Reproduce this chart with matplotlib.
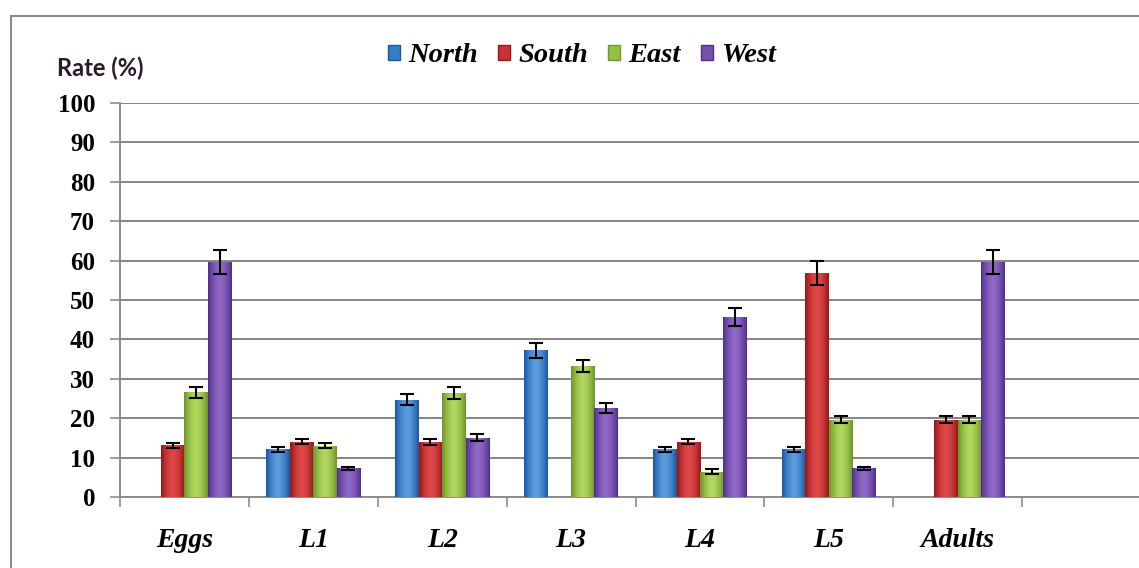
import matplotlib
matplotlib.use("Agg")
import matplotlib.pyplot as plt
import numpy as np
from matplotlib.patches import Rectangle, Patch
from matplotlib.colors import to_rgb

categories = ["Eggs", "L1", "L2", "L3", "L4", "L5", "Adults", ""]
series = ["North", "South", "East", "West"]
north = [0, 12.1, 24.7, 37.3, 12.1, 12.1, 0, 0]
south = [13.1, 14.0, 13.9, 0, 14.0, 56.8, 19.6, 0]
east = [26.6, 13.0, 26.5, 33.2, 6.4, 19.6, 19.6, 0]
west = [59.6, 7.3, 15.1, 22.6, 45.6, 7.3, 59.6, 0]
north_err = [0, 0.6, 1.35, 1.9, 0.6, 0.6, 0, 0]
south_err = [0.7, 0.6, 0.7, 0, 0.6, 3.0, 0.9, 0]
east_err = [1.4, 0.6, 1.5, 1.6, 0.6, 0.9, 0.9, 0]
west_err = [3.0, 0.4, 0.9, 1.2, 2.3, 0.4, 3.0, 0]
yticks = list(range(0, 101, 10))

values = [north, south, east, west]
errors = [north_err, south_err, east_err, west_err]
light = ["#5b9be0", "#e04848", "#b2d860", "#9068c8"]
dark = ["#1a58a0", "#981818", "#6e9628", "#50308a"]
mid = ["#3a7cc4", "#c83232", "#96c044", "#7450a8"]

W, H = 1139, 568
fig = plt.figure(figsize=(W / 100, H / 100), dpi=100)
ax = fig.add_axes([120 / W, 71 / H, 1031 / W, 394 / H])

# outer frame
fig.add_artist(Rectangle((11 / W, -0.1), 1.2, (H - 16) / H + 0.1,
                         transform=fig.transFigure, fill=False,
                         edgecolor="#8a8a8a", lw=1.5))

n = len(categories)
x = np.arange(n) + 0.5
bw = 1 / 5.5

def grad_img(c_light, c_dark, npx=40):
    t = np.linspace(-1, 1, npx)
    w = np.abs(t) ** 1.6
    cl = np.array(to_rgb(c_light))
    cd = np.array(to_rgb(c_dark))
    img = cl[None, :] * (1 - w[:, None]) + cd[None, :] * w[:, None]
    return img[None, :, :]

for i, (vals, errs) in enumerate(zip(values, errors)):
    xs = x + (i - 1.5) * bw
    for xi, v, e in zip(xs, vals, errs):
        if v <= 0:
            continue
        bar = ax.bar(xi, v, width=bw, color=mid[i], edgecolor="none", zorder=3)[0]
        im = ax.imshow(grad_img(light[i], dark[i]), extent=[xi - bw / 2, xi + bw / 2, 0, v],
                       aspect="auto", zorder=3.5, interpolation="bilinear")
        im.set_clip_path(bar)
        ax.errorbar(xi, v, yerr=e, fmt="none", ecolor="black", elinewidth=1.5,
                    capsize=5, capthick=1.5, zorder=5)

ax.set_xlim(0, n)
ax.set_ylim(0, 100)
ax.set_yticks(yticks)
ax.set_yticklabels([str(t) for t in yticks], family="Liberation Serif",
                   fontweight="bold", fontsize=18)
ax.yaxis.grid(True, color="#858585", lw=1.4, zorder=0)
ax.set_axisbelow(True)
ax.set_xticks(np.arange(n + 1))
ax.set_xticklabels([])
ax.set_xticks(x, minor=True)
ax.set_xticklabels(categories, minor=True, family="Liberation Serif",
                   fontweight="bold", style="italic", fontsize=20)
ax.tick_params(axis="x", which="minor", length=0, pad=22)
ax.tick_params(axis="x", which="major", length=7, color="#8c8c8c", width=1.2)
ax.tick_params(axis="y", length=7, color="#8c8c8c", width=1.2, pad=11)
for s in ["top", "right"]:
    ax.spines[s].set_visible(False)
for s in ["left", "bottom"]:
    ax.spines[s].set_color("#8c8c8c")
    ax.spines[s].set_linewidth(1.4)

fig.text(57 / W, (H - 68) / H, "Rate (%)", family="Lato", fontweight="bold",
         fontsize=17, ha="left", va="center", color="#2a1a2a")

handles = [Patch(facecolor=mid[i], edgecolor=dark[i], label=series[i]) for i in range(4)]
fig.legend(handles=handles, loc="center", bbox_to_anchor=(582 / W, (H - 56) / H),
           ncol=4, frameon=False, handlelength=0.42, handleheight=0.42,
           handletextpad=0.3, columnspacing=0.7,
           prop={"family": "Liberation Serif", "weight": "bold", "style": "italic", "size": 20.5})

fig.savefig("out.png", dpi=100, facecolor="white")
